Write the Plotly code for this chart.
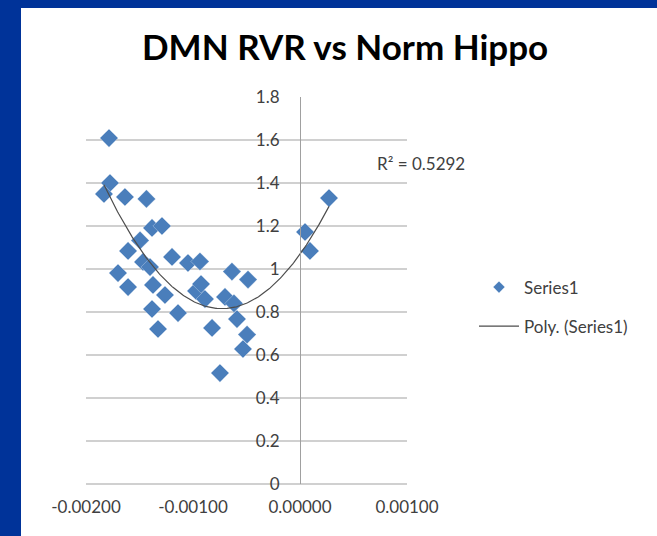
import numpy as np
import plotly.graph_objects as go

# Data
dmn_rvr = [-0.001785, -0.001776, -0.001832, -0.001636, -0.001435, -0.001383,
           -0.001290, -0.001495, -0.001607, -0.001467, -0.001402, -0.001196,
           -0.001047, -0.000935, -0.000636, -0.000486, -0.001701, -0.001607,
           -0.001374, -0.001262, -0.000972, -0.000925, -0.000888, -0.000701,
           -0.000617, -0.000589, -0.001383, -0.001140, -0.001327, -0.000822,
           -0.000495, -0.000533, -0.000748, 0.000047, 0.000093, 0.000271]
norm_hippo = [1.609, 1.400, 1.349, 1.335, 1.326, 1.191,
              1.200, 1.133, 1.084, 1.033, 1.009, 1.056,
              1.028, 1.035, 0.988, 0.951, 0.981, 0.916,
              0.926, 0.879, 0.898, 0.930, 0.860, 0.870,
              0.840, 0.767, 0.814, 0.795, 0.721, 0.726,
              0.695, 0.628, 0.516, 1.172, 1.084, 1.330]
x_ticks = [-0.002, -0.001, 0.0, 0.001]
x_tick_labels = ["-0.00200", "-0.00100", "0.00000", "0.00100"]
y_ticks = [0, 0.2, 0.4, 0.6, 0.8, 1.0, 1.2, 1.4, 1.6, 1.8]
y_tick_labels = ["0", "0.2", "0.4", "0.6", "0.8", "1", "1.2", "1.4", "1.6", "1.8"]
title_text = "DMN RVR vs Norm Hippo"
r2_text = "R² = 0.5292"
series_name = "Series1"
trend_name = "Poly. (Series1)"

W, H = 657, 536
FONT = "Lato"
OX, OY = 0, 0  # page offset of the plot div (body margin removed)


def fx(px):
    return (px - OX) / W


def fy(py):
    return 1 - (py - OY) / H


# polynomial (order 2) trendline fitted to the data
coef = np.polyfit(dmn_rvr, norm_hippo, 2)
xs = np.linspace(min(dmn_rvr), max(dmn_rvr), 200)
ys = np.polyval(coef, xs)

marker_style = dict(symbol="diamond", color="#4a7ebb",
                    line=dict(color="rgba(255,255,255,0.5)", width=0.6))

fig = go.Figure()
fig.add_trace(go.Scatter(
    x=dmn_rvr, y=norm_hippo, mode="markers", name=series_name,
    legendgroup="a", showlegend=False,
    marker=dict(size=14, **marker_style),
))
# legend proxy (smaller symbol as in the reference legend)
fig.add_trace(go.Scatter(
    x=[None], y=[None], mode="markers", name=series_name,
    legendgroup="a", showlegend=True,
    marker=dict(size=9, **marker_style),
))
fig.add_trace(go.Scatter(
    x=xs, y=ys, mode="lines", name=trend_name, legendgroup="b",
    line=dict(color="#4d4d4d", width=1.2),
))

xdom = [fx(86), fx(407)]
ydom = [fy(484), fy(97)]
ypos = fx(300)

fig.update_layout(
    width=W, height=H,
    margin=dict(l=0, r=0, t=0, b=0, autoexpand=False),
    paper_bgcolor="#003399",
    plot_bgcolor="rgba(0,0,0,0)",
    font=dict(family=FONT, size=17, color="#404040"),
    showlegend=True,
    legend=dict(x=fx(474), y=fy(307), xanchor="left", yanchor="middle",
                bgcolor="rgba(0,0,0,0)", itemwidth=40, tracegroupgap=14,
                font=dict(family=FONT, size=17, color="#404040")),
    xaxis=dict(domain=xdom, range=[-0.002, 0.001], tickvals=x_ticks,
               ticktext=x_tick_labels, showgrid=False, zeroline=False,
               showline=False, ticks="outside", ticklen=8, automargin=False,
               tickcolor="rgba(0,0,0,0)",
               tickfont=dict(family=FONT, size=17, color="#404040")),
    yaxis=dict(domain=ydom, range=[0, 1.8], tickvals=y_ticks,
               ticktext=y_tick_labels, anchor="free", position=ypos,
               automargin=False,
               showgrid=True, gridcolor="#d0d0d0", gridwidth=1.5,
               zeroline=True, zerolinecolor="#d0d0d0", zerolinewidth=1.5,
               showline=True, linecolor="#a0a0a0", linewidth=1,
               ticks="outside", ticklen=17, tickcolor="rgba(0,0,0,0)",
               tickfont=dict(family=FONT, size=17, color="#404040")),
    shapes=[dict(type="rect", xref="paper", yref="paper",
                 x0=fx(21), x1=1, y0=0, y1=fy(8),
                 fillcolor="white", line=dict(width=0), layer="below")],
    annotations=[
        dict(text="<b>" + title_text + "</b>", xref="paper", yref="paper",
             x=fx(345), y=fy(46), xanchor="center", yanchor="middle",
             showarrow=False, font=dict(family=FONT, size=35, color="#000000")),
        dict(text=r2_text, xref="paper", yref="paper",
             x=fx(375), y=fy(163), xanchor="left", yanchor="middle",
             showarrow=False, font=dict(family=FONT, size=17, color="#404040")),
    ],
)

fig.write_html("out.html",
               config={"displayModeBar": False},
               post_script="document.body.style.margin='0';"
                           "document.body.style.background='#003399';")
